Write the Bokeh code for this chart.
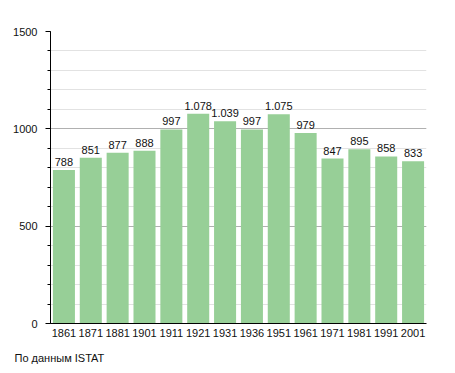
from bokeh.plotting import figure
from bokeh.models import ColumnDataSource, FixedTicker, Title
from bokeh.embed import file_html
from bokeh.resources import INLINE
from bokeh.core.properties import value

years = ["1861", "1871", "1881", "1901", "1911", "1921", "1931", "1936",
         "1951", "1961", "1971", "1981", "1991", "2001"]
population = [788, 851, 877, 888, 997, 1078, 1039, 997, 1075, 979, 847, 895, 858, 833]
y_ticks = [0, 500, 1000, 1500]
source_note = "По данным  ISTAT"

labels = [f"{v:,}".replace(",", ".") for v in population]
src = ColumnDataSource(dict(x=years, top=population, label=labels))

FONT = "Liberation Sans"

p = figure(x_range=years, y_range=(0, 1500), width=448, height=373,
           output_backend="svg", toolbar_location=None,
           min_border_left=50, min_border_right=22, min_border_top=31,
           min_border_bottom=40)
p.outline_line_color = None
p.background_fill_color = "white"

p.vbar(x="x", top="top", width=0.82, source=src,
       fill_color="#97cf97", line_color=None)
p.text(x="x", y="top", text="label", source=src, text_align="center",
       text_baseline="bottom", y_offset=-4, text_font=value(FONT),
       text_font_size="11px", text_color="#111111")

p.x_range.range_padding = 0.0
p.xgrid.grid_line_color = None
p.yaxis.ticker = FixedTicker(ticks=y_ticks, minor_ticks=list(range(0, 1501, 100)))
p.ygrid.grid_line_color = "#b0b0b0"
p.ygrid.minor_grid_line_color = "#e2e2e2"
p.ygrid.level = "underlay"

for ax in (p.xaxis, p.yaxis):
    ax.axis_line_color = "black"
    ax.axis_line_width = 1
    ax.major_label_text_font = FONT
    ax.major_label_text_font_size = "11px"
    ax.major_label_text_color = "#111111"

p.yaxis.major_tick_out = 5
p.yaxis.major_tick_in = 0
p.yaxis.minor_tick_out = 3
p.yaxis.minor_tick_in = 0
p.yaxis.major_label_standoff = 8
p.xaxis.major_tick_line_color = None
p.xaxis.minor_tick_line_color = None
p.xaxis.major_label_standoff = -1

note = Title(text=source_note, align="left", offset=-36, standoff=20,
             vertical_align="bottom",
             text_font=FONT, text_font_size="11px", text_font_style="normal",
             text_color="#111111")
p.add_layout(note, "below")

open("out.html", "w").write(file_html(p, INLINE))
